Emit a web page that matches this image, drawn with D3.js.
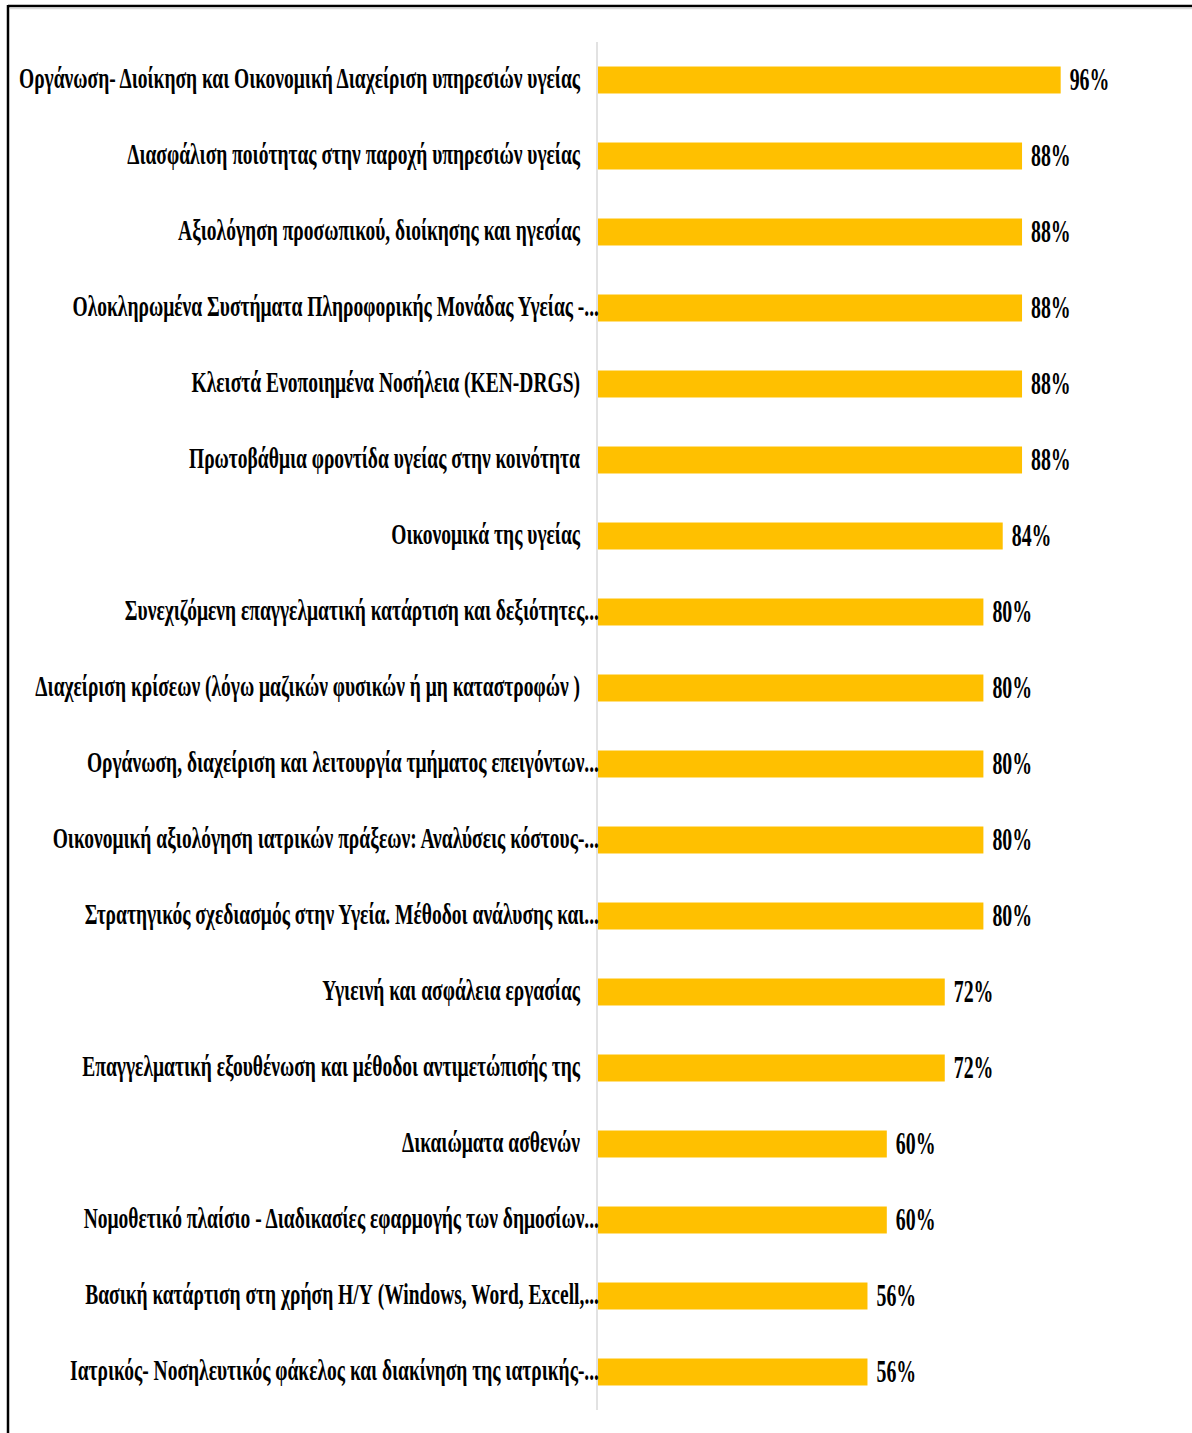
<!DOCTYPE html>
<html>
<head>
<meta charset="utf-8">
<script src="https://cdn.jsdelivr.net/npm/d3@7"></script>
<style>
  html, body { margin: 0; padding: 0; background: #fff; }
  svg { display: block; }
  .lbl { font-family: "Liberation Serif", "Times New Roman", serif; font-weight: bold; fill: #000; }
</style>
</head>
<body>
<svg id="chart" width="1192" height="1433"></svg>
<script>
// Training needs by subject area (share of respondents)
const categories = [
  "Οργάνωση- Διοίκηση και Οικονομική Διαχείριση υπηρεσιών υγείας",
  "Διασφάλιση ποιότητας στην παροχή υπηρεσιών υγείας",
  "Αξιολόγηση προσωπικού, διοίκησης και ηγεσίας",
  "Ολοκληρωμένα Συστήματα Πληροφορικής Μονάδας Υγείας -...",
  "Κλειστά Ενοποιημένα Νοσήλεια (ΚΕΝ-DRGS)",
  "Πρωτοβάθμια φροντίδα υγείας στην κοινότητα",
  "Οικονομικά της υγείας",
  "Συνεχιζόμενη επαγγελματική κατάρτιση και δεξιότητες...",
  "Διαχείριση κρίσεων (λόγω μαζικών φυσικών ή μη καταστροφών )",
  "Οργάνωση, διαχείριση και λειτουργία τμήματος επειγόντων...",
  "Οικονομική αξιολόγηση ιατρικών πράξεων: Αναλύσεις κόστους-...",
  "Στρατηγικός σχεδιασμός στην Υγεία. Μέθοδοι ανάλυσης και...",
  "Υγιεινή και ασφάλεια εργασίας",
  "Επαγγελματική εξουθένωση και μέθοδοι αντιμετώπισής της",
  "Δικαιώματα ασθενών",
  "Νομοθετικό πλαίσιο - Διαδικασίες εφαρμογής των δημοσίων...",
  "Βασική κατάρτιση στη χρήση Η/Υ (Windows, Word, Excell,...",
  "Ιατρικός- Νοσηλευτικός φάκελος και διακίνηση της ιατρικής-..."
];
const values = [96, 88, 88, 88, 88, 88, 84, 80, 80, 80, 80, 80, 72, 72, 60, 60, 56, 56];

const svg = d3.select("#chart");

// Frame: heavy top/left border with a faint inner shadow line
svg.append("line").attr("x1", 8).attr("x2", 1192).attr("y1", 6).attr("y2", 6)
  .attr("stroke", "#000").attr("stroke-width", 2.5);
svg.append("line").attr("x1", 10).attr("x2", 1192).attr("y1", 8.5).attr("y2", 8.5)
  .attr("stroke", "#d9d9d9").attr("stroke-width", 1.5);
svg.append("line").attr("x1", 8).attr("x2", 8).attr("y1", 5).attr("y2", 1433)
  .attr("stroke", "#000").attr("stroke-width", 2.5);

const x0 = 597;
const x = d3.scaleLinear().domain([0, 100]).range([x0, x0 + 483]);
const y = d3.scaleBand().domain(categories).range([42, 1410]).paddingInner(0.645).paddingOuter(0.3225);

// Category axis line
svg.append("line").attr("x1", x0).attr("x2", x0).attr("y1", 42).attr("y2", 1410)
  .attr("stroke", "#d9d9d9").attr("stroke-width", 1.5);

// Bars
svg.append("g").selectAll("rect").data(categories).join("rect")
  .attr("x", x(0) + 1)
  .attr("y", d => y(d))
  .attr("width", (d, i) => x(values[i]) - x(0) - 1)
  .attr("height", y.bandwidth())
  .attr("fill", "#FFC000");

// Category labels, right aligned against the axis (condensed)
svg.append("g").selectAll("text").data(categories).join("text")
  .attr("class", "lbl")
  .attr("font-size", 30)
  .attr("text-anchor", "end")
  .attr("transform", d => {
    const xr = d.endsWith("...") ? 599 : 580;
    return `translate(${xr},${y(d) + y.bandwidth() / 2 + 8}) scale(0.65,1)`;
  })
  .text(d => d);

// Value labels
svg.append("g").selectAll("text").data(categories).join("text")
  .attr("class", "lbl")
  .attr("font-size", 31)
  .attr("transform", (d, i) => `translate(${x(values[i]) + 9},${y(d) + y.bandwidth() / 2 + 9.5}) scale(0.64,1)`)
  .text((d, i) => values[i] + "%");
</script>
</body>
</html>
